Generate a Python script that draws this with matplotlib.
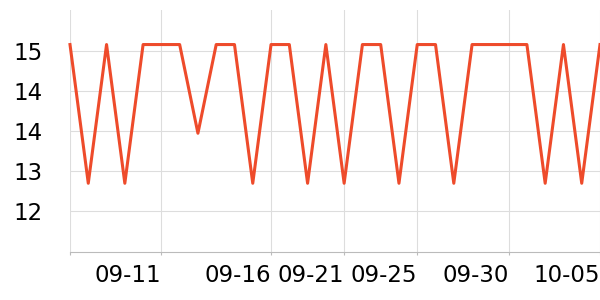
import matplotlib
matplotlib.use("Agg")
import matplotlib.pyplot as plt
from matplotlib.ticker import FormatStrFormatter

# значения по дням (верх ~14.9, низ ~12.8)
values = [14.9, 12.82, 14.9, 12.82, 14.9, 14.9, 14.9, 13.57, 14.9, 14.9,
          12.82, 14.9, 14.9, 12.82, 14.9, 12.82, 14.9, 14.9, 12.82, 14.9,
          14.9, 12.82, 14.9, 14.9, 14.9, 14.9, 12.82, 14.9, 12.82, 14.9]
x_ticks = [0, 5, 11, 15, 19, 24, 29]
x_labels = ['', '09-11', '09-16', '09-21', '09-25', '09-30', '10-05']
y_ticks = [12.4, 13.0, 13.6, 14.2, 14.8]

fig = plt.figure(figsize=(6, 3), dpi=100)
ax = fig.add_axes([70 / 600, 47.7 / 300, 530 / 600, 242.3 / 300])

ax.plot(range(len(values)), values, color='#ee4b2b', linewidth=2.2, clip_on=False, zorder=3)

ax.set_xlim(0, len(values) - 1)
ax.set_ylim(11.785, 15.418)
ax.set_xticks(x_ticks)
ax.set_xticklabels(x_labels, ha='right')
ax.set_yticks(y_ticks)
ax.yaxis.set_major_formatter(FormatStrFormatter('%.0f'))

ax.grid(True, color='#dddddd', linewidth=0.8)
ax.set_axisbelow(True)
for s in ['top', 'right', 'left']:
    ax.spines[s].set_visible(False)
ax.spines['bottom'].set_color('#bbbbbb')
ax.spines['bottom'].set_linewidth(0.8)

ax.tick_params(axis='x', length=2.5, color='#bbbbbb', labelsize=16.5, pad=6)
ax.tick_params(axis='y', length=0, labelsize=16.5, pad=20)

fig.savefig('out.png', dpi=100)
